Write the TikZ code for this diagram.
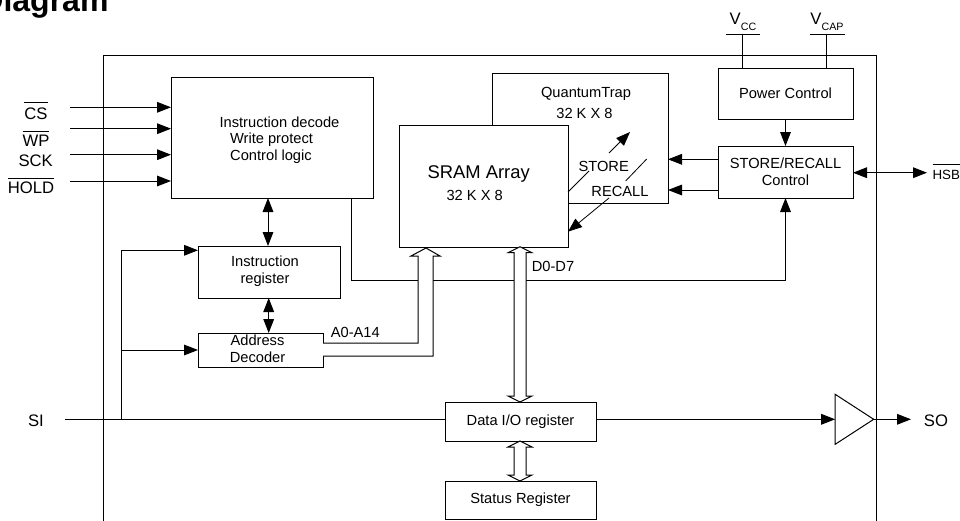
\documentclass[tikz,border=0pt]{standalone}
\usepackage{fontspec}
\setmainfont{Liberation Sans}
\usetikzlibrary{positioning}
\usetikzlibrary{arrows.meta}
\usetikzlibrary{calc}
\usetikzlibrary{shapes.geometric}

\newcommand{\ovl}[2]{$\overline{\mbox{\rule{0pt}{#1}#2}}$}

\begin{document}
\begin{tikzpicture}[x=0.75pt,y=-0.75pt,>={Triangle[length=10.5pt,width=8pt]},
                    line width=0.75pt,
                    main node/.style={draw,rectangle,inner sep=0pt,outer sep=0pt,fill=white,align=center,font=\fontsize{11}{13}\selectfont},
                    txt/.style={inner sep=0pt,outer sep=0pt,align=center,font=\fontsize{11}{13}\selectfont},
                    pin name/.style={inner sep=0pt,outer sep=0pt,anchor=base,font=\fontsize{12.5}{14}\selectfont},
                    thin arrow/.style={line width=0.6pt},
                    bus both/.style={fill=white,to path={(\tikztostart) -- ++(-12,6) -- ++(6,0)
                        -- ($(\tikztotarget)+(-6,-6)$) -- ++(-6,0) -- (\tikztotarget)
                        -- ++(12,-6) -- ++(-6,0) -- ($(\tikztostart)+(6,6)$) -- ++(6,0) -- cycle}}]
      \useasboundingbox (0,0) rectangle (960,521);

      \node[inner sep=0pt,anchor=base east,font=\bfseries\fontsize{24}{26}\selectfont] (title) at (109,12) {Diagram};

      \draw (103,521) -- (103,55) -- (876,55) -- (876,521);

      \node[main node,minimum width=151.5pt,minimum height=90.75pt] (decode) at (272,137.5) {};
      \node[main node,minimum width=106.5pt,minimum height=39pt] (insreg) at (269,272) {};
      \node[main node,minimum width=93.75pt,minimum height=25.5pt] (addrdec) at (260.5,350) {};
      \node[main node,minimum width=132pt,minimum height=97.5pt] (qtrap) at (580,138) {};
      \node[main node,minimum width=126.75pt,minimum height=91.5pt] (sram) at (483.5,186) {};
      \node[main node,minimum width=101.25pt,minimum height=38.25pt] (power) at (785.5,93.5) {Power Control};
      \node[main node,minimum width=101.25pt,minimum height=39pt,below=20.25pt of power] (srctl) {STORE/RECALL\\Control};
      \node[main node,minimum width=113.25pt,minimum height=29.25pt] (dataio) at (520.5,421.5) {Data I/O register};
      \node[main node,minimum width=113.25pt,minimum height=28.5pt,below=30pt of dataio] (status) {Status Register};
      \node[draw,isosceles triangle,isosceles triangle apex angle=75,isosceles triangle stretches,
            shape border rotate=0,inner sep=0pt,outer sep=0pt,minimum height=28.9pt,minimum width=37.5pt] (buf) at (848.75,419.3) {};

      \node[txt] (l1) at (279.5,122) {Instruction decode};
      \node[txt] (l2) at (271.5,140) {Write protect};
      \node[txt] (l3) at (271,157) {Control logic};
      \node[txt] (l4) at (265,271.5) {Instruction\\register};
      \node[txt] (l5) at (257.5,349) {Address\\Decoder};
      \node[txt] (l6) at (586,94) {QuantumTrap};
      \node[txt] (l7) at (584.5,113) {32 K X 8};
      \node[txt,font=\fontsize{13.8}{16}\selectfont] (l8) at (478.7,174) {SRAM Array};
      \node[txt] (l9) at (474.7,195) {32 K X 8};
      \node[txt] (store) at (603.7,166) {STORE};
      \node[txt] (recall) at (620,191) {RECALL};
      \node[txt] (a0) at (355.3,332) {A0-A14};
      \node[txt] (d0) at (553,266.7) {D0-D7};

      \node[pin name] (cs) at (36,119) {\ovl{11.15pt}{CS}};
      \node[pin name] (wp) at (36,146) {\ovl{9.65pt}{WP}};
      \node[pin name] (sck) at (35.7,166) {SCK};
      \node[pin name] (hold) at (31,193) {\ovl{9.65pt}{HOLD}};
      \node[pin name] (si) at (36,426.5) {SI};
      \node[pin name] (so) at (936,426) {SO};
      \node[pin name,font=\fontsize{10}{12}\selectfont,anchor=base west] (hsb) at (932.5,179) {\ovl{9.65pt}{HSB}};
      \node[pin name] (vcc) at (743,24) {V\raisebox{-4.5pt}{\fontsize{8}{9}\selectfont CC}};
      \node[pin name] (vcap) at (827,24) {V\raisebox{-4.5pt}{\fontsize{8}{9}\selectfont CAP}};

      \coordinate (csin) at (70,107.3);
      \coordinate (wpin) at (70,128.7);
      \coordinate (sckin) at (70,154.7);
      \coordinate (holdin) at (70,181);
      \coordinate (siin) at (65,419.3);
      \coordinate (sijoin) at (121,419.3);
      \coordinate (sotip) at (911,419.3);
      \coordinate (hsbtip) at (927,172.7);
      \coordinate (vccl) at (725.6,34.7);
      \coordinate (vccr) at (760,34.7);
      \coordinate (vcapl) at (810,34.7);
      \coordinate (vcapr) at (845,34.7);
      \coordinate (vccs) at (742.4,34.7);
      \coordinate (vcaps) at (826.4,34.7);
      \coordinate (ctlout) at (351.7,198);
      \coordinate (ctlin) at (785.5,198);
      \coordinate (storea) at (568,192);
      \coordinate (storeb) at (589,171);
      \coordinate (storec) at (609,153);
      \coordinate (stored) at (630,132);
      \coordinate (recalla) at (646.7,159);
      \coordinate (recallb) at (625.6,181);
      \coordinate (recallc) at (609,198);
      \coordinate (recalld) at (568,231.7);
      \coordinate (dbustop) at (520,246.7);
      \coordinate (dbusbot) at (520,402);
      \coordinate (sbustop) at (520,441);
      \coordinate (sbusbot) at (520,481);

      \path[->]
	(csin) edge (decode.west |- csin)
	(wpin) edge (decode.west |- wpin)
	(sckin) edge (decode.west |- sckin)
	(holdin) edge (decode.west |- holdin)
	(power) edge (srctl)
	(dataio.east |- sijoin) edge (buf.lower side)
	(buf.apex) edge (sotip);
      \path[<->]
	(decode.south -| 268,0) edge (insreg.north -| 268,0)
	(insreg.south -| 268.7,0) edge (addrdec.north -| 268.7,0)
	(srctl.east |- hsbtip) edge (hsbtip);
      \path[->]
	(srctl.west |- 0,159.3) edge (qtrap.east |- 0,159.3)
	(srctl.west |- 0,190) edge (qtrap.east |- 0,190);

      \draw (siin) -- (dataio.west |- siin);
      \draw[->] (sijoin) |- (insreg.west |- 0,250.3);
      \draw[->] (sijoin |- addrdec) -- (addrdec.west);
      \draw[->] (ctlout) -- (ctlout |- 0,280.7) -| (ctlin);

      \draw (vccl) -- (vccr);
      \draw (vcapl) -- (vcapr);
      \draw (vccs) -- (power.north -| vccs);
      \draw (vcaps) -- (power.north -| vcaps);

      \draw[fill=white] (addrdec.east |- 0,343) -- (418,343) -- (418,256) -- (411,256) -- (426,248)
        -- (440,256) -- (433,256) -- (433,356) -- (addrdec.east |- 0,356);
      \path[draw,bus both] (dbustop) to (dbusbot);
      \path[draw,bus both] (sbustop) to (sbusbot);

      \draw[thin arrow] (storea) -- (storeb);
      \draw[thin arrow,->] (storec) -- (stored);
      \draw[thin arrow] (recalla) -- (recallb);
      \draw[thin arrow,->] (recallc) -- (recalld);
\end{tikzpicture}
\end{document}
